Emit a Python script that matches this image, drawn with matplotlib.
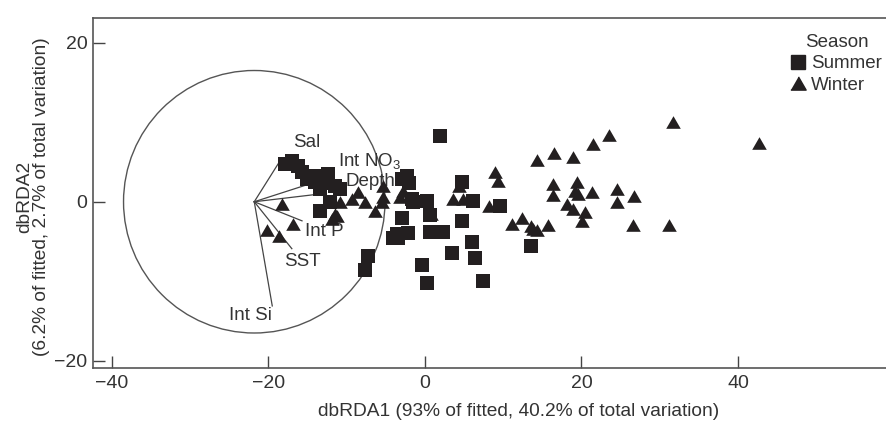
import matplotlib.pyplot as plt
from matplotlib.patches import Ellipse
from matplotlib.lines import Line2D

plt.rcParams['font.family'] = ['Liberation Sans', 'DejaVu Sans']

# Summer samples (squares)
summer_x = [-17.9, -17.0, -16.2, -15.7, -15.1, -14.0, -13.0, -12.4, -13.4, -11.5,
            -10.9, -13.4, -12.1, -12.8, -14.5, -2.9, -2.3, -2.0, -1.6, 0.3,
            0.6, -2.9, -3.6, -2.2, -3.4, 0.6, 2.3, 4.7, 4.7, 6.1,
            9.6, 6.0, 3.4, 6.4, -0.4, 0.3, 7.4, 13.5, 1.9, -7.3,
            -7.7, -1.5, -4.1]
summer_y = [4.75, 5.1, 4.5, 3.75, 2.9, 2.5, 3.25, 3.5, 1.6, 2.0,
            1.6, -1.1, 0.0, 2.3, 3.3, 2.9, 3.3, 2.4, 0.3, 0.1,
            -1.7, -2.1, -4.0, -3.9, -4.6, -3.75, -3.75, -2.4, 2.5, 0.1,
            -0.5, -5.0, -6.5, -7.1, -7.9, -10.25, -10.0, -5.5, 8.3, -6.8,
            -8.6, 0.0, -4.6]

# Winter samples (triangles)
winter_x = [-18.3, -16.9, -20.2, -18.6, -11.5, -11.9, -10.9, -8.6, -9.3, -7.7,
            -6.4, -5.4, -5.4, -5.5, -3.2, -2.8, -11.2, 0.8, 3.6, 4.9,
            4.3, 8.2, 9.0, 9.3, 11.1, 12.4, 13.6, 14.3, 15.7, 14.3,
            16.5, 18.9, 21.5, 23.5, 31.7, 42.7, 16.3, 16.3, 19.4, 19.2,
            19.5, 21.3, 18.1, 18.9, 20.4, 20.1, 24.5, 24.5, 26.7, 26.6,
            31.2, 13.8]
winter_y = [-0.25, -2.75, -3.6, -4.25, -1.5, -2.2, 0.0, 1.25, 0.4, 0.0,
            -1.1, 2.0, 0.6, 0.0, 0.6, 1.4, -1.75, -1.6, 0.3, 0.4,
            2.0, -0.5, 3.75, 2.6, -2.75, -2.1, -3.0, -3.6, -2.9, 5.2,
            6.1, 5.6, 7.25, 8.4, 10.0, 7.4, 2.25, 0.9, 2.5, 1.4,
            1.0, 1.25, -0.25, -0.9, -1.25, -2.4, 1.6, 0.0, 0.75, -2.9,
            -2.9, -3.4]

# environmental vectors
vec_names = ['Sal', r'Int NO$_\mathregular{3}$', 'Depth', 'Int P', 'SST', 'Int Si']
vec_x = [-18.6, -14.7, -13.2, -15.7, -17.0, -19.5]
vec_y = [5.0, 2.25, 1.0, -2.4, -5.9, -13.1]
lab_x = [-15.1, -11.1, -10.2, -15.3, -15.7, -22.3]
lab_y = [7.5, 5.0, 2.5, -3.75, -7.5, -14.25]
lab_ha = ['center', 'left', 'left', 'left', 'center', 'center']
origin_x, origin_y = -21.8, 0.0
circle_w, circle_h = 33.4, 33.0

mark_col = '#231f20'
text_col = '#333333'

fig = plt.figure(figsize=(8.86, 4.25), dpi=100)
ax = fig.add_axes([93 / 886, 57 / 425, 793 / 886, 350 / 425])

ax.add_patch(Ellipse((origin_x, origin_y), circle_w, circle_h, fill=False,
                     edgecolor='#555555', linewidth=1.0))
for vx, vy in zip(vec_x, vec_y):
    ax.plot([origin_x, vx], [origin_y, vy], color='#444444', linewidth=0.9)

# labels sit under the markers, as in the original
for name, x, y, ha in zip(vec_names, lab_x, lab_y, lab_ha):
    ax.text(x, y, name, ha=ha, va='center', fontsize=13.5, color=text_col, zorder=2.5)

tri = [(-1, -0.866), (1, -0.866), (0, 0.866)]
ax.scatter(summer_x, summer_y, marker='s', s=88, color=mark_col, linewidths=0, zorder=3)
ax.scatter(winter_x, winter_y, marker=tri, s=110, color=mark_col, linewidths=0, zorder=3)

ax.set_xlim(-42.4, 58.9)
ax.set_ylim(-20.9, 23.1)
ax.set_xticks([-40, -20, 0, 20, 40])
ax.set_yticks([-20, 0, 20])
ax.tick_params(direction='in', length=8.5, width=1, color='#444444',
               labelsize=14, labelcolor=text_col)
ax.tick_params(axis='y', pad=4)
ax.tick_params(axis='x', pad=5)
for side in ['left', 'bottom', 'top']:
    ax.spines[side].set_color('#555555')
    ax.spines[side].set_linewidth(1.2)
ax.spines['right'].set_visible(False)

ax.set_xlabel('dbRDA1 (93% of fitted, 40.2% of total variation)', fontsize=13.8, color=text_col)
ax.xaxis.set_label_coords((519 - 93) / 793, -0.1)
ax.set_ylabel('dbRDA2\n(6.2% of fitted, 2.7% of total variation)', fontsize=13.8,
              color=text_col, linespacing=1.0)
ax.yaxis.set_label_coords(-0.054, 0.49)

handles = [Line2D([], [], marker='s', linestyle='', color=mark_col, markersize=9.4),
           Line2D([], [], marker=tri, linestyle='', color=mark_col, markersize=11)]
leg = ax.legend(handles, ['Summer', 'Winter'], title='Season', loc='upper right',
                bbox_to_anchor=(1.0, 0.965), frameon=False, fontsize=13.5, title_fontsize=13.5,
                handlelength=0.8, handletextpad=0.3, labelspacing=0.22, borderaxespad=0.0,
                borderpad=0.2, alignment='center')
for t in leg.get_texts():
    t.set_color(text_col)
leg.get_title().set_color(text_col)

fig.savefig('out.png', dpi=100)
